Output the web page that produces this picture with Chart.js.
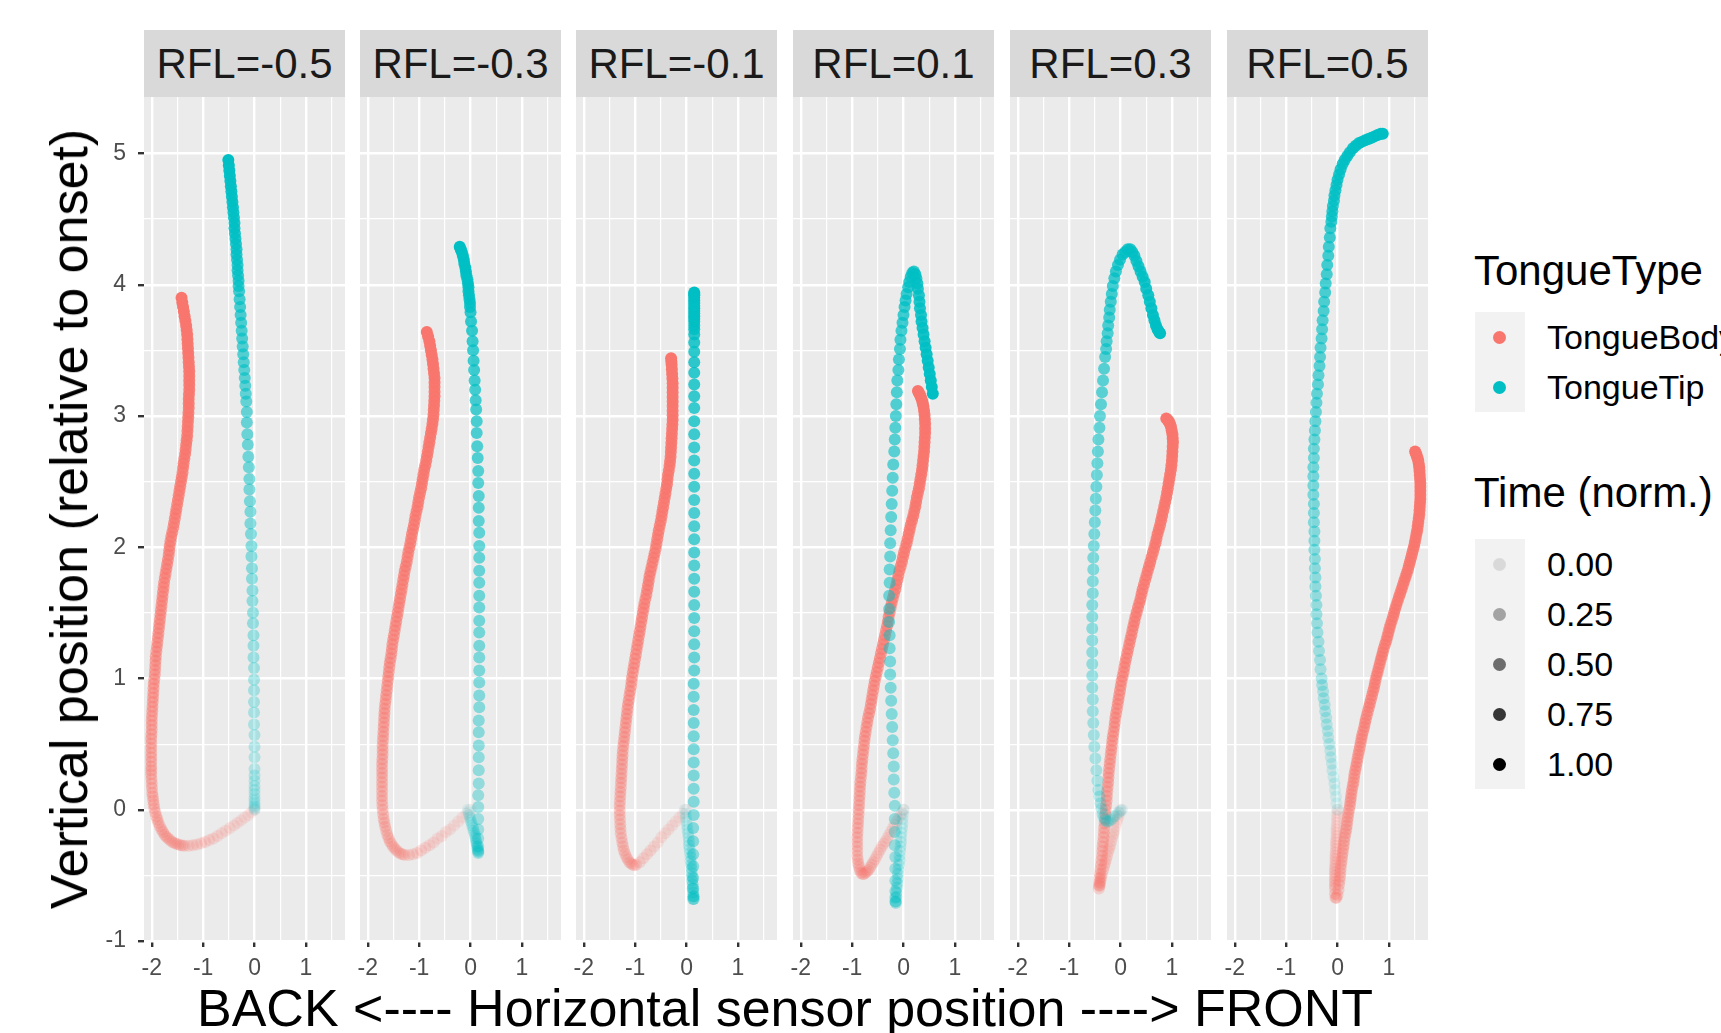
<!DOCTYPE html>
<html>
<head>
<meta charset="utf-8">
<script src="https://cdn.jsdelivr.net/npm/chart.js@4.4.1/dist/chart.umd.min.js"></script>
<style>
  html, body { margin: 0; padding: 0; background: #fff; }
  body { width: 1721px; height: 1033px; position: relative; overflow: hidden;
         font-family: "Liberation Sans", Arial, sans-serif; }
  canvas { position: absolute; top: 67px; }
  .strip { position: absolute; top: 30px; height: 67px; width: 201px; background: #D9D9D9;
           color: #1A1A1A; font-size: 42px; line-height: 67px; text-align: center; white-space: nowrap; }
  .ytitle { position: absolute; left: 69px; top: 518.5px; transform: translate(-50%, -50%) rotate(-90deg);
            font-size: 52px; line-height: 52px; white-space: nowrap; color: #000; }
  .xtitle { position: absolute; left: 785px; top: 982px; transform: translateX(-50%);
            font-size: 52px; line-height: 52px; white-space: nowrap; color: #000; }
  .leg-title { position: absolute; left: 1474px; font-size: 42px; line-height: 42px; white-space: nowrap; color: #000; }
  .key { position: absolute; left: 1474.5px; width: 50px; height: 50px; background: #F2F2F2; }
  .key i { position: absolute; left: 18.5px; top: 18.5px; width: 13px; height: 13px; border-radius: 50%; }
  .leg-label { position: absolute; left: 1547px; height: 50px; font-size: 34px; line-height: 50px;
               white-space: nowrap; color: #000; }
</style>
</head>
<body>
<script>
// facets, axes
const panelLabels = ['RFL=-0.5', 'RFL=-0.3', 'RFL=-0.1', 'RFL=0.1', 'RFL=0.3', 'RFL=0.5'];
const xGrid = [-2, -1.5, -1, -0.5, 0, 0.5, 1, 1.5];
const yGrid = [-1, -0.5, 0, 0.5, 1, 1.5, 2, 2.5, 3, 3.5, 4, 4.5, 5];
const tongueTypes = ['TongueBody', 'TongueTip'];
const timeBreaks = [0, 0.25, 0.5, 0.75, 1];
const timeLabels = ['0.00', '0.25', '0.50', '0.75', '1.00'];

// trajectories [x, y], in time order (t = 0 first)
const bodyM05 = [[0,0],[-0.06,-0.02],[-0.12,-0.04],[-0.19,-0.06],[-0.26,-0.08],[-0.33,-0.10],[-0.40,-0.12],[-0.48,-0.14],[-0.56,-0.16],[-0.64,-0.18],[-0.72,-0.20],[-0.80,-0.22],[-0.88,-0.23],[-0.96,-0.245],[-1.04,-0.255],[-1.12,-0.265],[-1.20,-0.27],[-1.28,-0.275],
  [-1.36,-0.275],[-1.40,-0.273],[-1.44,-0.27],[-1.48,-0.265],[-1.52,-0.26],[-1.56,-0.253],[-1.60,-0.245],[-1.64,-0.233],[-1.68,-0.22],[-1.715,-0.205],[-1.75,-0.19],[-1.78,-0.17],[-1.81,-0.15],[-1.84,-0.125],[-1.87,-0.10],[-1.89,-0.075],[-1.91,-0.05],[-1.93,-0.02],[-1.95,0.01],[-1.96,0.04],[-1.97,0.07],[-1.98,0.10],[-1.99,0.13],[-1.995,0.165],[-2.00,0.20],[-2.005,0.235],[-2.01,0.27],[-2.01,0.30],
  [-2.01,0.33],[-2.01,0.365],[-2.01,0.40],[-2.01,0.435],[-2.01,0.47],[-2.01,0.505],[-2.01,0.54],[-2.005,0.575],[-2.00,0.61],[-2.00,0.645],[-2.00,0.68],[-1.995,0.715],[-1.99,0.75],[-1.985,0.785],[-1.98,0.82],[-1.975,0.855],[-1.97,0.89],[-1.965,0.925],[-1.96,0.96],[-1.95,0.995],[-1.94,1.03],[-1.935,1.065],[-1.93,1.10],[-1.925,1.135],[-1.92,1.17],[-1.91,1.205],[-1.90,1.24],[-1.89,1.275],[-1.88,1.31],[-1.87,1.345],[-1.86,1.38],[-1.85,1.415],[-1.84,1.45],[-1.83,1.485],[-1.82,1.52],[-1.81,1.555],[-1.80,1.59],[-1.79,1.625],[-1.78,1.66],[-1.77,1.695],[-1.76,1.73],[-1.745,1.765],[-1.73,1.80],[-1.715,1.835],[-1.70,1.87],[-1.685,1.905],[-1.67,1.94],[-1.66,1.975],[-1.65,2.01],[-1.635,2.045],[-1.62,2.08],[-1.60,2.115],[-1.58,2.15],[-1.565,2.185],[-1.55,2.22],[-1.535,2.255],[-1.52,2.29],[-1.505,2.325],[-1.49,2.36],[-1.475,2.395],[-1.46,2.43],[-1.445,2.465],[-1.43,2.50],[-1.415,2.535],[-1.40,2.57],[-1.39,2.605],[-1.38,2.64],[-1.365,2.675],[-1.35,2.71],[-1.34,2.745],[-1.33,2.78],[-1.32,2.815],[-1.31,2.85],[-1.305,2.885],[-1.30,2.92],[-1.295,2.955],[-1.29,2.99],[-1.285,3.025],[-1.28,3.06],[-1.28,3.095],[-1.28,3.13],[-1.275,3.165],[-1.27,3.20],[-1.27,3.235],[-1.27,3.27],[-1.27,3.305],[-1.27,3.34],[-1.275,3.375],[-1.28,3.41],[-1.285,3.445],[-1.29,3.48],[-1.295,3.515],[-1.30,3.55],[-1.305,3.585],[-1.31,3.62],[-1.32,3.655],[-1.33,3.69],[-1.345,3.725],[-1.36,3.76],[-1.375,3.795],[-1.39,3.83],[-1.405,3.865],[-1.42,3.90]];
const tipM05 = [[0,0],[0,0.01],[0,0.02],[0,0.03],[0,0.05],[0,0.07],[0,0.09],[0,0.12],[0,0.15],[0,0.18],[0,0.22],[0,0.26],
  [0,0.31],[0,0.40],[0,0.48],[0,0.57],[-0.01,0.65],[-0.01,0.74],[-0.01,0.82],[-0.01,0.91],[-0.01,0.99],[-0.01,1.08],[-0.02,1.16],[-0.02,1.25],[-0.02,1.33],[-0.03,1.42],[-0.03,1.50],[-0.04,1.59],[-0.04,1.67],[-0.05,1.76],[-0.05,1.84],[-0.06,1.93],[-0.06,2.01],[-0.07,2.10],[-0.08,2.18],[-0.08,2.27],[-0.09,2.35],[-0.10,2.44],[-0.10,2.52],[-0.11,2.61],[-0.12,2.69],[-0.13,2.78],[-0.14,2.86],[-0.15,2.95],[-0.15,3.03],[-0.16,3.11],
  [-0.17,3.17],[-0.18,3.23],[-0.19,3.29],[-0.20,3.35],[-0.21,3.41],[-0.22,3.47],[-0.23,3.53],[-0.24,3.59],[-0.25,3.65],[-0.26,3.71],[-0.27,3.77],[-0.28,3.83],[-0.29,3.89],[-0.30,3.95],
  [-0.31,3.99],[-0.31,4.03],[-0.32,4.07],[-0.33,4.11],[-0.33,4.15],[-0.34,4.19],[-0.35,4.23],[-0.35,4.27],[-0.36,4.31],[-0.37,4.35],[-0.38,4.39],[-0.39,4.43],[-0.39,4.47],[-0.40,4.51],[-0.41,4.55],[-0.42,4.59],[-0.43,4.63],[-0.44,4.67],[-0.45,4.71],[-0.46,4.75],[-0.47,4.79],[-0.48,4.83],[-0.49,4.87],[-0.50,4.91],[-0.51,4.95]];

const bodyM03 = [[0,0],[-0.08,-0.03],[-0.16,-0.06],[-0.24,-0.09],[-0.32,-0.12],[-0.40,-0.15],[-0.48,-0.17],[-0.56,-0.20],[-0.64,-0.22],[-0.72,-0.25],[-0.80,-0.27],[-0.88,-0.29],[-0.96,-0.31],[-1.04,-0.33],[-1.12,-0.34],[-1.20,-0.345],
  [-1.28,-0.345],[-1.32,-0.34],[-1.36,-0.335],[-1.40,-0.323],[-1.44,-0.31],[-1.475,-0.295],[-1.51,-0.28],[-1.54,-0.26],[-1.57,-0.24],[-1.595,-0.215],[-1.62,-0.19],[-1.64,-0.16],[-1.66,-0.13],[-1.675,-0.10],[-1.69,-0.07],[-1.70,-0.035],[-1.71,0.0],[-1.715,0.035],[-1.72,0.07],[-1.72,0.105],[-1.72,0.14],[-1.72,0.175],[-1.72,0.21],[-1.72,0.245],
  [-1.72,0.28],[-1.72,0.315],[-1.72,0.35],[-1.715,0.385],[-1.71,0.42],[-1.71,0.455],[-1.71,0.49],[-1.705,0.525],[-1.70,0.56],[-1.695,0.595],[-1.69,0.63],[-1.685,0.665],[-1.68,0.70],[-1.675,0.735],[-1.67,0.77],[-1.66,0.805],[-1.65,0.84],[-1.64,0.875],[-1.63,0.91],[-1.62,0.945],[-1.61,0.98],[-1.60,1.015],[-1.59,1.05],[-1.58,1.085],[-1.57,1.12],[-1.555,1.155],[-1.54,1.19],[-1.53,1.225],[-1.52,1.26],[-1.505,1.295],[-1.49,1.33],[-1.475,1.365],[-1.46,1.40],[-1.445,1.435],[-1.43,1.47],[-1.415,1.505],[-1.40,1.54],[-1.385,1.575],[-1.37,1.61],[-1.355,1.645],[-1.34,1.68],[-1.325,1.715],[-1.31,1.75],[-1.295,1.785],[-1.28,1.82],[-1.26,1.855],[-1.24,1.89],[-1.225,1.925],[-1.21,1.96],[-1.19,1.995],[-1.17,2.03],[-1.155,2.065],[-1.14,2.10],[-1.12,2.135],[-1.10,2.17],[-1.085,2.205],[-1.07,2.24],[-1.05,2.275],[-1.03,2.31],[-1.015,2.345],[-1.00,2.38],[-0.98,2.415],[-0.96,2.45],[-0.945,2.485],[-0.93,2.52],[-0.915,2.555],[-0.90,2.59],[-0.88,2.625],[-0.86,2.66],[-0.845,2.695],[-0.83,2.73],[-0.815,2.765],[-0.80,2.80],[-0.785,2.835],[-0.77,2.87],[-0.755,2.905],[-0.74,2.94],[-0.73,2.975],[-0.72,3.01],[-0.715,3.045],[-0.71,3.08],[-0.705,3.115],[-0.70,3.15],[-0.70,3.185],[-0.70,3.22],[-0.70,3.255],[-0.70,3.29],[-0.71,3.325],[-0.72,3.36],[-0.73,3.395],[-0.74,3.43],[-0.755,3.465],[-0.77,3.50],[-0.785,3.535],[-0.80,3.57],[-0.825,3.605],[-0.85,3.64]];
const tipM03 = [[-0.05,0],[-0.04,-0.02],[-0.03,-0.04],[-0.01,-0.06],[0,-0.08],[0.02,-0.10],[0.03,-0.12],[0.05,-0.14],[0.06,-0.16],[0.08,-0.18],[0.09,-0.20],[0.10,-0.22],[0.11,-0.24],[0.12,-0.26],[0.13,-0.28],[0.14,-0.30],
  [0.15,-0.32],[0.15,-0.33],[0.15,-0.31],[0.15,-0.28],
  [0.15,-0.22],[0.15,-0.15],[0.15,-0.07],[0.15,0.02],[0.15,0.11],[0.16,0.20],[0.16,0.30],[0.16,0.40],[0.16,0.49],[0.16,0.59],[0.16,0.68],[0.17,0.78],[0.17,0.87],[0.17,0.97],[0.17,1.06],[0.17,1.16],[0.17,1.25],[0.17,1.35],[0.17,1.44],[0.17,1.54],[0.17,1.63],[0.17,1.73],[0.17,1.82],[0.17,1.92],[0.17,2.01],[0.17,2.11],[0.16,2.20],[0.16,2.30],[0.16,2.39],[0.15,2.49],[0.15,2.58],[0.14,2.68],[0.13,2.77],[0.12,2.87],[0.12,2.96],[0.11,3.05],
  [0.10,3.12],[0.09,3.20],[0.08,3.27],[0.07,3.35],[0.06,3.42],[0.05,3.50],[0.04,3.57],[0.03,3.65],[0.01,3.72],[0,3.79],
  [-0.01,3.83],[-0.01,3.86],[-0.02,3.89],[-0.03,3.92],[-0.04,3.95],[-0.04,3.98],[-0.05,4.01],[-0.06,4.04],[-0.08,4.07],[-0.09,4.10],[-0.10,4.13],[-0.12,4.16],[-0.13,4.19],[-0.15,4.22],[-0.17,4.25],[-0.19,4.27],[-0.21,4.29]];

const bodyM01 = [[0,0],[-0.07,-0.03],[-0.14,-0.06],[-0.21,-0.09],[-0.28,-0.12],[-0.35,-0.15],[-0.42,-0.18],[-0.49,-0.21],[-0.56,-0.25],[-0.63,-0.28],[-0.70,-0.31],[-0.77,-0.34],[-0.84,-0.37],[-0.91,-0.40],
  [-0.98,-0.42],[-1.015,-0.423],[-1.05,-0.42],[-1.08,-0.41],[-1.11,-0.40],[-1.14,-0.38],[-1.17,-0.36],[-1.195,-0.335],[-1.22,-0.31],[-1.235,-0.28],[-1.25,-0.25],[-1.265,-0.215],[-1.28,-0.18],[-1.285,-0.145],[-1.29,-0.11],[-1.295,-0.075],[-1.30,-0.04],[-1.30,-0.005],[-1.30,0.03],[-1.295,0.065],
  [-1.29,0.10],[-1.285,0.135],[-1.28,0.17],[-1.275,0.205],[-1.27,0.24],[-1.265,0.275],[-1.26,0.31],[-1.255,0.345],[-1.25,0.38],[-1.245,0.415],[-1.24,0.45],[-1.23,0.485],[-1.22,0.52],[-1.21,0.555],[-1.20,0.59],[-1.19,0.625],[-1.18,0.66],[-1.17,0.695],[-1.16,0.73],[-1.15,0.765],[-1.14,0.80],[-1.125,0.835],[-1.11,0.87],[-1.095,0.905],[-1.08,0.94],[-1.07,0.975],[-1.06,1.01],[-1.045,1.045],[-1.03,1.08],[-1.015,1.115],[-1.00,1.15],[-0.985,1.185],[-0.97,1.22],[-0.955,1.255],[-0.94,1.29],[-0.925,1.325],[-0.91,1.36],[-0.895,1.395],[-0.88,1.43],[-0.865,1.465],[-0.85,1.50],[-0.835,1.535],[-0.82,1.57],[-0.80,1.605],[-0.78,1.64],[-0.765,1.675],[-0.75,1.71],[-0.735,1.745],[-0.72,1.78],[-0.70,1.815],[-0.68,1.85],[-0.66,1.885],[-0.64,1.92],[-0.62,1.955],[-0.60,1.99],[-0.585,2.025],[-0.57,2.06],[-0.555,2.095],[-0.54,2.13],[-0.52,2.165],[-0.50,2.20],[-0.485,2.235],[-0.47,2.27],[-0.455,2.305],[-0.44,2.34],[-0.425,2.375],[-0.41,2.41],[-0.395,2.445],[-0.38,2.48],[-0.37,2.515],[-0.36,2.55],[-0.345,2.585],[-0.33,2.62],[-0.32,2.655],[-0.31,2.69],[-0.305,2.725],[-0.30,2.76],[-0.295,2.795],[-0.29,2.83],[-0.285,2.865],[-0.28,2.90],[-0.275,2.935],[-0.27,2.97],[-0.27,3.005],[-0.27,3.04],[-0.27,3.075],[-0.27,3.11],[-0.27,3.145],[-0.27,3.18],[-0.27,3.215],[-0.27,3.25],[-0.275,3.285],[-0.28,3.32],[-0.285,3.355],[-0.29,3.39],[-0.295,3.415],[-0.30,3.44]];
const tipM01 = [[-0.03,0],[-0.02,-0.03],[-0.01,-0.06],[0,-0.09],[0.01,-0.12],[0.02,-0.15],[0.03,-0.18],[0.04,-0.21],[0.05,-0.24],[0.05,-0.27],[0.06,-0.30],[0.07,-0.33],[0.08,-0.36],[0.08,-0.39],[0.09,-0.42],[0.10,-0.45],[0.10,-0.48],[0.11,-0.51],[0.11,-0.54],[0.12,-0.57],[0.12,-0.60],[0.13,-0.63],
  [0.13,-0.66],[0.13,-0.68],[0.14,-0.68],[0.14,-0.66],
  [0.13,-0.60],[0.13,-0.52],[0.13,-0.43],[0.13,-0.34],[0.13,-0.24],[0.13,-0.14],[0.14,-0.04],[0.14,0.06],[0.14,0.16],[0.14,0.26],[0.14,0.36],[0.14,0.46],[0.14,0.56],[0.14,0.66],[0.14,0.76],[0.14,0.86],[0.14,0.96],[0.15,1.06],[0.15,1.16],[0.15,1.26],[0.15,1.36],[0.15,1.46],[0.15,1.56],[0.15,1.66],[0.15,1.76],[0.15,1.86],[0.15,1.96],[0.15,2.06],[0.15,2.16],[0.15,2.26],[0.15,2.36],[0.15,2.46],[0.15,2.56],[0.15,2.66],[0.15,2.76],[0.15,2.86],[0.15,2.96],[0.15,3.06],[0.15,3.15],[0.15,3.24],[0.15,3.33],[0.15,3.41],[0.15,3.49],[0.15,3.56],[0.15,3.62],
  [0.15,3.66],[0.15,3.69],[0.15,3.72],[0.15,3.74],[0.15,3.76],[0.15,3.78],[0.15,3.80],[0.15,3.82],[0.15,3.84],[0.15,3.86],[0.15,3.88],[0.15,3.90],[0.15,3.92],[0.15,3.93],[0.15,3.94]];

const bodyP01 = [[0,0],[-0.035,-0.025],[-0.07,-0.05],[-0.105,-0.07],[-0.14,-0.09],[-0.175,-0.115],[-0.21,-0.14],[-0.245,-0.165],[-0.28,-0.19],[-0.315,-0.215],[-0.35,-0.24],[-0.385,-0.26],[-0.42,-0.28],[-0.455,-0.305],[-0.49,-0.33],[-0.525,-0.355],[-0.56,-0.38],[-0.59,-0.40],[-0.62,-0.42],[-0.65,-0.44],[-0.68,-0.46],[-0.71,-0.47],[-0.74,-0.48],
  [-0.77,-0.49],[-0.80,-0.49],[-0.825,-0.48],[-0.85,-0.46],[-0.865,-0.435],[-0.88,-0.41],[-0.89,-0.38],[-0.90,-0.35],[-0.90,-0.315],[-0.90,-0.28],[-0.90,-0.245],[-0.90,-0.21],[-0.895,-0.175],[-0.89,-0.14],[-0.885,-0.105],[-0.88,-0.07],[-0.875,-0.035],
  [-0.87,0.00],[-0.865,0.035],[-0.86,0.07],[-0.855,0.105],[-0.85,0.14],[-0.845,0.175],[-0.84,0.21],[-0.83,0.245],[-0.82,0.28],[-0.815,0.315],[-0.81,0.35],[-0.80,0.385],[-0.79,0.42],[-0.78,0.455],[-0.77,0.49],[-0.76,0.525],[-0.75,0.56],[-0.735,0.595],[-0.72,0.63],[-0.705,0.665],[-0.69,0.70],[-0.67,0.735],[-0.65,0.77],[-0.635,0.805],[-0.62,0.84],[-0.605,0.875],[-0.59,0.91],[-0.575,0.945],[-0.56,0.98],[-0.54,1.015],[-0.52,1.05],[-0.50,1.085],[-0.48,1.12],[-0.46,1.155],[-0.44,1.19],[-0.42,1.225],[-0.40,1.26],[-0.38,1.295],[-0.36,1.33],[-0.34,1.365],[-0.32,1.40],[-0.305,1.435],[-0.29,1.47],[-0.27,1.505],[-0.25,1.54],[-0.23,1.575],[-0.21,1.61],[-0.185,1.645],[-0.16,1.68],[-0.14,1.715],[-0.12,1.75],[-0.10,1.785],[-0.08,1.82],[-0.055,1.855],[-0.03,1.89],[-0.01,1.925],[0.01,1.96],[0.035,1.995],[0.06,2.03],[0.08,2.065],[0.10,2.10],[0.12,2.135],[0.14,2.17],[0.165,2.205],[0.19,2.24],[0.21,2.275],[0.23,2.31],[0.245,2.345],[0.26,2.38],[0.28,2.415],[0.30,2.45],[0.315,2.485],[0.33,2.52],[0.345,2.555],[0.36,2.59],[0.37,2.625],[0.38,2.66],[0.39,2.695],[0.40,2.73],[0.405,2.765],[0.41,2.80],[0.415,2.835],[0.42,2.87],[0.42,2.905],[0.42,2.94],[0.415,2.975],[0.41,3.01],[0.40,3.04],[0.39,3.07],[0.375,3.095],[0.36,3.12],[0.34,3.14],[0.32,3.16],[0.30,3.175],[0.28,3.19]];
const tipP01 = [[0,0],[-0.01,-0.035],[-0.02,-0.07],[-0.02,-0.105],[-0.03,-0.14],[-0.04,-0.175],[-0.05,-0.21],[-0.05,-0.245],[-0.06,-0.28],[-0.07,-0.315],[-0.08,-0.35],[-0.08,-0.385],[-0.09,-0.42],[-0.10,-0.455],[-0.11,-0.49],[-0.11,-0.525],[-0.12,-0.56],[-0.13,-0.595],[-0.14,-0.63],[-0.14,-0.665],
  [-0.15,-0.70],[-0.15,-0.71],[-0.16,-0.70],[-0.16,-0.67],
  [-0.16,-0.62],[-0.16,-0.54],[-0.16,-0.45],[-0.16,-0.36],[-0.17,-0.27],[-0.17,-0.17],[-0.17,-0.07],[-0.17,0.03],[-0.18,0.13],[-0.19,0.23],[-0.19,0.33],[-0.20,0.43],[-0.21,0.53],[-0.22,0.63],[-0.23,0.73],[-0.24,0.83],[-0.25,0.93],[-0.26,1.03],[-0.26,1.13],[-0.27,1.23],[-0.27,1.33],[-0.28,1.43],[-0.28,1.53],[-0.28,1.63],[-0.27,1.73],[-0.27,1.83],[-0.26,1.93],[-0.26,2.03],[-0.25,2.13],[-0.24,2.23],[-0.23,2.33],[-0.22,2.43],[-0.21,2.53],[-0.20,2.63],[-0.18,2.73],[-0.17,2.82],[-0.16,2.91],[-0.15,3.00],[-0.14,3.09],[-0.13,3.18],[-0.12,3.27],[-0.10,3.35],[-0.09,3.43],[-0.07,3.51],[-0.06,3.58],[-0.04,3.65],
  [-0.02,3.71],[0,3.77],[0.02,3.83],[0.04,3.88],[0.06,3.93],[0.09,3.98],[0.11,4.02],[0.14,4.06],[0.17,4.09],[0.20,4.10],
  [0.23,4.08],[0.25,4.05],[0.27,4.01],[0.28,3.97],[0.30,3.92],[0.31,3.87],[0.32,3.82],[0.34,3.77],[0.35,3.72],[0.37,3.67],[0.39,3.62],[0.41,3.57],[0.43,3.52],[0.45,3.47],[0.47,3.42],[0.49,3.37],[0.51,3.32],[0.53,3.27],[0.55,3.22],[0.57,3.17]];

const bodyP03 = [[0,0],[-0.02,-0.025],[-0.04,-0.05],[-0.06,-0.075],[-0.08,-0.10],[-0.10,-0.13],[-0.12,-0.16],[-0.14,-0.185],[-0.16,-0.21],[-0.18,-0.24],[-0.20,-0.27],[-0.22,-0.295],[-0.24,-0.32],[-0.26,-0.35],[-0.28,-0.38],[-0.30,-0.405],[-0.32,-0.43],[-0.34,-0.46],[-0.36,-0.49],[-0.375,-0.515],[-0.39,-0.54],[-0.40,-0.56],[-0.41,-0.58],
  [-0.42,-0.60],[-0.415,-0.575],[-0.41,-0.55],[-0.405,-0.52],[-0.40,-0.49],[-0.39,-0.455],[-0.38,-0.42],[-0.37,-0.385],[-0.36,-0.35],[-0.355,-0.315],[-0.35,-0.28],[-0.34,-0.245],[-0.33,-0.21],[-0.325,-0.175],[-0.32,-0.14],[-0.31,-0.105],[-0.30,-0.07],[-0.295,-0.035],[-0.29,0.00],[-0.28,0.035],[-0.27,0.07],[-0.265,0.105],[-0.26,0.14],[-0.25,0.175],[-0.24,0.21],[-0.235,0.245],[-0.23,0.28],[-0.22,0.315],[-0.21,0.35],[-0.20,0.385],[-0.19,0.42],[-0.18,0.455],[-0.17,0.49],[-0.16,0.525],[-0.15,0.56],[-0.135,0.595],[-0.12,0.63],[-0.11,0.665],[-0.10,0.70],[-0.085,0.735],[-0.07,0.77],[-0.055,0.805],[-0.04,0.84],[-0.025,0.875],[-0.01,0.91],[0.005,0.945],[0.02,0.98],[0.04,1.015],[0.06,1.05],[0.075,1.085],[0.09,1.12],[0.11,1.155],[0.13,1.19],[0.15,1.225],[0.17,1.26],[0.19,1.295],[0.21,1.33],[0.23,1.365],[0.25,1.40],[0.27,1.435],[0.29,1.47],[0.315,1.505],[0.34,1.54],[0.365,1.575],[0.39,1.61],[0.41,1.645],[0.43,1.68],[0.455,1.715],[0.48,1.75],[0.505,1.785],[0.53,1.82],[0.555,1.855],[0.58,1.89],[0.605,1.925],[0.63,1.96],[0.655,1.995],[0.68,2.03],[0.70,2.065],[0.72,2.10],[0.745,2.135],[0.77,2.17],[0.79,2.205],[0.81,2.24],[0.83,2.275],[0.85,2.31],[0.87,2.345],[0.89,2.38],[0.905,2.415],[0.92,2.45],[0.935,2.485],[0.95,2.52],[0.965,2.555],[0.98,2.59],[0.99,2.625],[1.00,2.66],[1.005,2.695],[1.01,2.73],[1.015,2.765],[1.02,2.80],[1.015,2.83],[1.01,2.86],[0.995,2.89],[0.98,2.92],[0.96,2.94],[0.94,2.96],[0.915,2.97],[0.89,2.98]];
const tipP03 = [[0.03,0],[0,-0.01],[-0.04,-0.02],[-0.08,-0.04],[-0.12,-0.05],[-0.16,-0.07],[-0.20,-0.08],[-0.24,-0.09],
  [-0.27,-0.09],[-0.30,-0.08],[-0.33,-0.06],[-0.35,-0.03],[-0.37,0.01],[-0.39,0.05],[-0.41,0.10],[-0.43,0.15],
  [-0.45,0.22],[-0.47,0.30],[-0.49,0.39],[-0.51,0.48],[-0.52,0.57],[-0.53,0.66],[-0.54,0.75],[-0.54,0.84],[-0.55,0.93],[-0.55,1.02],[-0.55,1.11],[-0.55,1.20],[-0.55,1.29],[-0.55,1.38],[-0.55,1.47],[-0.55,1.56],[-0.54,1.65],[-0.54,1.74],[-0.53,1.83],[-0.53,1.92],[-0.52,2.01],[-0.51,2.10],[-0.50,2.19],[-0.49,2.28],[-0.48,2.37],[-0.47,2.46],[-0.46,2.55],[-0.45,2.64],[-0.44,2.73],[-0.43,2.82],[-0.41,2.91],[-0.40,3.00],[-0.38,3.09],[-0.36,3.18],[-0.34,3.27],[-0.32,3.36],[-0.30,3.45],
  [-0.28,3.51],[-0.27,3.57],[-0.25,3.63],[-0.24,3.69],[-0.22,3.75],[-0.21,3.81],[-0.19,3.87],[-0.17,3.93],[-0.15,3.99],[-0.12,4.05],[-0.09,4.10],[-0.05,4.15],[-0.01,4.19],[0.04,4.23],[0.09,4.25],[0.14,4.27],[0.19,4.27],
  [0.23,4.25],[0.27,4.22],[0.31,4.18],[0.35,4.14],[0.39,4.10],[0.43,4.06],[0.47,4.02],[0.50,3.97],[0.54,3.92],[0.57,3.87],[0.60,3.82],[0.63,3.77],[0.66,3.73],[0.69,3.69],[0.72,3.66],[0.75,3.64],[0.77,3.63]];

const bodyP05 = [[0,0],[-0.005,-0.025],[-0.01,-0.05],[-0.01,-0.075],[-0.01,-0.10],[-0.015,-0.125],[-0.02,-0.15],[-0.02,-0.175],[-0.02,-0.20],[-0.025,-0.225],[-0.03,-0.25],[-0.03,-0.275],[-0.03,-0.30],[-0.035,-0.325],[-0.04,-0.35],[-0.04,-0.375],[-0.04,-0.40],[-0.045,-0.425],[-0.05,-0.45],[-0.05,-0.475],[-0.05,-0.50],[-0.05,-0.525],[-0.05,-0.55],[-0.05,-0.575],[-0.05,-0.60],[-0.05,-0.64],
  [-0.04,-0.67],[-0.02,-0.67],[0,-0.65],[0.02,-0.61],
  [0.03,-0.57],[0.04,-0.54],[0.05,-0.51],[0.055,-0.48],[0.06,-0.45],[0.07,-0.42],[0.08,-0.39],[0.09,-0.36],[0.10,-0.33],[0.11,-0.30],[0.12,-0.27],[0.13,-0.24],[0.14,-0.21],[0.155,-0.18],[0.17,-0.15],[0.18,-0.12],[0.19,-0.09],[0.20,-0.06],[0.21,-0.03],[0.225,0.0],[0.24,0.03],[0.25,0.06],[0.26,0.09],[0.27,0.12],[0.28,0.15],[0.295,0.18],[0.31,0.21],[0.32,0.24],[0.33,0.27],[0.345,0.30],[0.36,0.33],[0.375,0.36],[0.39,0.39],[0.405,0.42],[0.42,0.45],[0.435,0.48],[0.45,0.51],[0.465,0.54],[0.48,0.57],[0.50,0.60],[0.52,0.63],[0.535,0.66],[0.55,0.69],[0.57,0.72],[0.59,0.75],[0.61,0.78],[0.63,0.81],[0.65,0.84],[0.67,0.87],[0.69,0.90],[0.71,0.93],[0.725,0.96],[0.74,0.99],[0.76,1.02],[0.78,1.05],[0.80,1.08],[0.82,1.11],[0.84,1.14],[0.86,1.17],[0.88,1.20],[0.90,1.23],[0.925,1.26],[0.95,1.29],[0.97,1.32],[0.99,1.35],[1.01,1.38],[1.03,1.41],[1.055,1.44],[1.08,1.47],[1.10,1.50],[1.12,1.53],[1.145,1.56],[1.17,1.59],[1.195,1.62],[1.22,1.65],[1.245,1.68],[1.27,1.71],[1.295,1.74],[1.32,1.77],[1.345,1.80],[1.37,1.83],[1.39,1.86],[1.41,1.89],[1.43,1.92],[1.45,1.95],[1.47,1.98],[1.49,2.01],[1.505,2.04],[1.52,2.07],[1.535,2.10],[1.55,2.13],[1.56,2.16],[1.57,2.19],[1.58,2.22],[1.59,2.25],[1.595,2.28],[1.60,2.31],[1.605,2.34],[1.61,2.37],[1.61,2.40],[1.61,2.43],[1.61,2.46],[1.61,2.49],[1.605,2.52],[1.60,2.55],[1.595,2.58],[1.59,2.61],[1.58,2.635],[1.57,2.66],[1.555,2.68],[1.54,2.70],[1.525,2.715],[1.51,2.73]];
const tipP05 = [[0,0],[-0.02,0.05],[-0.03,0.10],[-0.05,0.15],[-0.06,0.20],[-0.08,0.25],[-0.10,0.30],[-0.11,0.35],[-0.13,0.40],[-0.14,0.45],[-0.16,0.50],[-0.18,0.55],[-0.19,0.60],[-0.21,0.65],[-0.22,0.70],[-0.24,0.75],[-0.25,0.80],[-0.27,0.85],[-0.28,0.90],[-0.30,0.95],
  [-0.31,1.00],[-0.33,1.07],[-0.34,1.14],[-0.36,1.21],[-0.37,1.28],[-0.39,1.35],[-0.40,1.42],[-0.41,1.49],[-0.41,1.56],[-0.42,1.63],[-0.43,1.70],[-0.43,1.77],[-0.44,1.84],[-0.44,1.91],[-0.45,1.98],[-0.45,2.05],[-0.45,2.12],[-0.46,2.19],[-0.46,2.26],[-0.46,2.33],[-0.47,2.40],[-0.47,2.47],[-0.47,2.54],[-0.47,2.61],[-0.46,2.68],[-0.46,2.75],[-0.45,2.82],[-0.44,2.89],[-0.43,2.96],[-0.42,3.03],[-0.41,3.10],[-0.40,3.17],[-0.38,3.24],[-0.37,3.31],[-0.35,3.38],[-0.34,3.45],[-0.33,3.52],[-0.31,3.59],[-0.30,3.66],[-0.29,3.73],[-0.27,3.80],[-0.26,3.87],[-0.24,3.94],[-0.23,4.01],[-0.21,4.08],[-0.20,4.15],[-0.18,4.22],[-0.17,4.29],[-0.15,4.36],[-0.14,4.43],
  [-0.12,4.48],[-0.11,4.52],[-0.10,4.56],[-0.09,4.60],[-0.07,4.64],[-0.06,4.68],[-0.04,4.72],[-0.02,4.76],[0,4.80],[0.03,4.84],[0.06,4.88],[0.10,4.92],[0.14,4.95],[0.19,4.98],[0.24,5.01],[0.30,5.04],[0.36,5.06],[0.42,5.08],[0.48,5.09],[0.54,5.10],[0.60,5.11],[0.66,5.12],[0.72,5.13],[0.78,5.14],[0.84,5.15],[0.88,5.15]];

const bodySeries = [bodyM05, bodyM03, bodyM01, bodyP01, bodyP03, bodyP05];
const tipSeries = [tipM05, tipM03, tipM01, tipP01, tipP03, tipP05];

/* look */
const bodyRgb = '248,118,109';
const tipRgb = '0,191,196';
const panelLefts = [144, 360, 576, 793, 1010, 1227];
const panelWidth = 201;

Chart.defaults.font.family = '"Liberation Sans", Arial, sans-serif';

const panelBg = {
    id: 'panelBg',
    beforeDraw(chart) {
        const { ctx, chartArea: a } = chart;
        ctx.save();
        ctx.fillStyle = '#EBEBEB';
        ctx.fillRect(a.left, a.top, a.right - a.left, a.bottom - a.top);
        ctx.restore();
    },
};

// alpha follows normalized time (0.1 .. 1), like scale_alpha
const fade = (rgb, n) => (ctx) => {
    const t = ctx.dataIndex === undefined ? 1 : ctx.dataIndex / (n - 1);
    return 'rgba(' + rgb + ',' + (0.1 + 0.9 * t).toFixed(3) + ')';
};

const isMajor = (ctx) => ctx.tick && Number.isInteger(ctx.tick.value);

function axis(min, max, grid, showLabels, size, isX) {
    return {
        type: 'linear',
        min: min,
        max: max,
        bounds: 'data',
        afterBuildTicks: (a) => { a.ticks = grid.map((v) => ({ value: v })); },
        afterFit: (s) => { if (isX) { s.height = size; } else { s.width = size; } },
        border: { display: false },
        grid: {
            color: '#FFFFFF',
            lineWidth: (ctx) => (isMajor(ctx) ? 2.4 : 1.2),
            drawTicks: showLabels,
            tickLength: 6,
            tickWidth: 2.4,
            tickColor: (ctx) => (isMajor(ctx) ? '#333333' : 'rgba(0,0,0,0)'),
        },
        ticks: {
            display: showLabels,
            padding: isX ? 8 : 12,
            color: '#4D4D4D',
            font: { size: 23 },
            callback: (v) => (Number.isInteger(v) ? String(v) : ''),
        },
    };
}

function makePanel(i) {
    const first = i === 0;
    const yAxisW = first ? panelLefts[0] - 20 : 0;
    const canvas = document.createElement('canvas');
    canvas.width = 20 + yAxisW + panelWidth + 20;
    canvas.height = 30 + 844 + 44;
    canvas.style.left = (first ? 0 : panelLefts[i] - 20) + 'px';
    document.body.appendChild(canvas);

    const body = bodySeries[i];
    const tip = tipSeries[i];

    new Chart(canvas, {
        type: 'scatter',
        data: {
            datasets: [
                { label: tongueTypes[1], data: tip.map(([x, y]) => ({ x, y })), pointRadius: 6,
                  pointBorderWidth: 0, pointBackgroundColor: fade(tipRgb, tip.length) },
                { label: tongueTypes[0], data: body.map(([x, y]) => ({ x, y })), pointRadius: 6,
                  pointBorderWidth: 0, pointBackgroundColor: fade(bodyRgb, body.length) },
            ],
        },
        options: {
            responsive: false,
            animation: false,
            events: [],
            layout: { padding: { top: 30, right: 20, bottom: 0, left: 20 } },
            plugins: { legend: { display: false }, tooltip: { enabled: false } },
            scales: {
                x: axis(-2.15, 1.76, xGrid, true, 44, true),
                y: axis(-1.0, 5.43, yGrid, first, yAxisW, false),
            },
        },
        plugins: [panelBg],
    });

    const strip = document.createElement('div');
    strip.className = 'strip';
    strip.style.left = panelLefts[i] + 'px';
    strip.textContent = panelLabels[i];
    document.body.appendChild(strip);
}

function addDiv(cls, text, css) {
    const d = document.createElement('div');
    d.className = cls;
    if (text) d.textContent = text;
    Object.assign(d.style, css || {});
    document.body.appendChild(d);
    return d;
}

function makeLegend() {
    addDiv('leg-title', 'TongueType', { top: '249.6px' });
    const colors = [bodyRgb, tipRgb];
    tongueTypes.forEach((name, k) => {
        const key = addDiv('key', '', { top: 312 + 50 * k + 'px' });
        const dot = document.createElement('i');
        dot.style.background = 'rgb(' + colors[k] + ')';
        key.appendChild(dot);
        addDiv('leg-label', name, { top: 312 + 50 * k + 'px' });
    });

    addDiv('leg-title', 'Time (norm.)', { top: '472.4px' });
    timeBreaks.forEach((t, k) => {
        const key = addDiv('key', '', { top: 539 + 50 * k + 'px' });
        const dot = document.createElement('i');
        dot.style.background = 'rgba(0,0,0,' + (0.1 + 0.9 * t) + ')';
        key.appendChild(dot);
        addDiv('leg-label', timeLabels[k], { top: 539 + 50 * k + 'px' });
    });
}

panelLabels.forEach((_, i) => makePanel(i));
addDiv('ytitle', 'Vertical position (relative to onset)');
addDiv('xtitle', 'BACK <---- Horizontal sensor position ----> FRONT');
makeLegend();
</script>
</body>
</html>
